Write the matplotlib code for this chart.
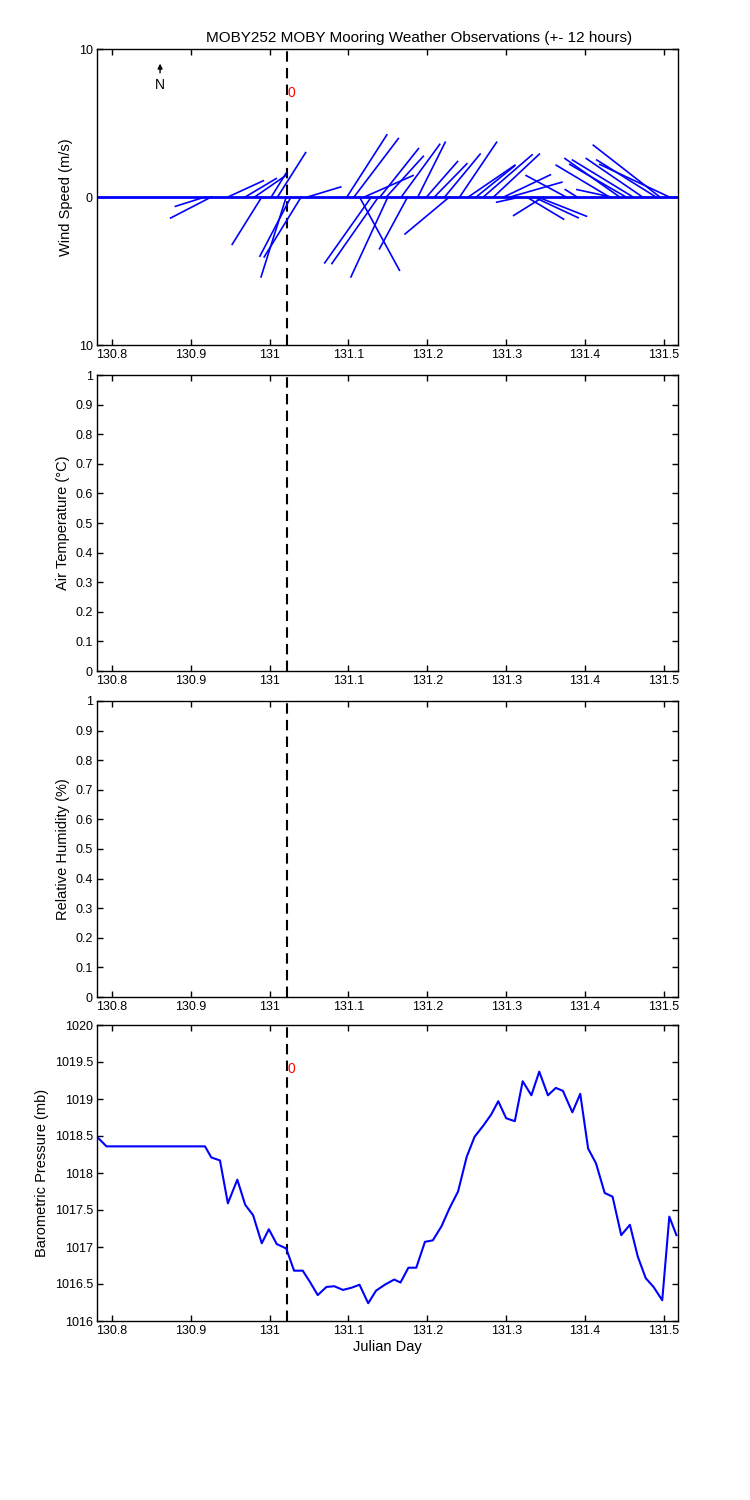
import numpy as np
import matplotlib
matplotlib.use("Agg")
import matplotlib.pyplot as plt

# Barometric pressure series
p_day = [130.781,130.793,130.918,130.926,130.937,130.947,130.959,130.969,130.979,130.990,
         130.999,131.009,131.021,131.031,131.042,131.051,131.061,131.072,131.082,131.093,
         131.104,131.114,131.125,131.135,131.146,131.158,131.166,131.176,131.186,131.197,
         131.207,131.218,131.228,131.239,131.250,131.260,131.271,131.281,131.290,131.300,
         131.311,131.321,131.332,131.342,131.353,131.363,131.372,131.384,131.394,131.404,
         131.414,131.425,131.435,131.446,131.457,131.467,131.477,131.487,131.498,131.507,131.516]
p_mb = [1018.49,1018.36,1018.36,1018.21,1018.17,1017.59,1017.91,1017.57,1017.43,1017.05,
        1017.24,1017.04,1016.98,1016.68,1016.68,1016.53,1016.35,1016.46,1016.47,1016.42,
        1016.45,1016.49,1016.24,1016.41,1016.49,1016.56,1016.52,1016.72,1016.72,1017.07,
        1017.09,1017.28,1017.52,1017.75,1018.22,1018.49,1018.64,1018.79,1018.97,1018.74,
        1018.70,1019.24,1019.05,1019.37,1019.05,1019.15,1019.11,1018.82,1019.07,1018.33,
        1018.13,1017.73,1017.68,1017.16,1017.30,1016.87,1016.58,1016.46,1016.28,1017.41,1017.16]

# Wind sticks: time (day), u, v (m/s)
w_day = [130.918,130.926,130.947,130.969,130.981,130.990,131.002,131.010,131.021,131.027,
         131.040,131.048,131.098,131.107,131.114,131.120,131.129,131.138,131.150,131.175,
         131.140,131.148,131.167,131.188,131.199,131.228,131.209,131.222,131.241,131.252,
         131.262,131.271,131.284,131.297,131.318,131.305,131.326,131.347,131.335,131.340,
         131.376,131.390,131.431,131.444,131.452,131.461,131.473,131.495,131.490,131.507,131.433]
w_u = [-2.0,-2.75,2.4,2.1,2.1,-2.0,1.0,1.9,-1.7,-2.1,
       -2.5,2.25,2.7,3.0,2.7,3.3,-3.15,-3.15,-2.5,-1.9,
       2.6,2.5,2.6,1.85,2.1,-3.0,2.2,2.4,2.5,3.15,
       2.6,3.3,3.1,3.15,-1.6,3.5,2.5,-2.0,3.0,3.3,
       -2.7,-0.8,-3.6,-3.7,-3.8,-4.1,-3.8,-4.5,-4.0,-4.7,-2.3]
w_v = [-0.63,-1.42,1.1,1.25,1.45,-3.2,1.6,3.0,-5.4,-4.0,
       -4.05,0.68,4.2,3.95,-4.95,1.45,-4.45,-4.5,-5.4,-3.5,
       3.27,2.75,3.56,3.7,2.4,-2.5,2.25,2.9,3.7,2.15,
       2.1,2.85,2.9,1.5,-0.35,1.0,-1.5,-1.25,-1.4,-1.3,
       1.45,0.5,2.15,2.6,2.2,2.5,2.6,3.5,2.5,2.2,0.5]

xlim = (130.781, 131.518)
t0 = 131.022
k = 0.01876  # days per m/s for stick display
xticks = [130.8, 130.9, 131.0, 131.1, 131.2, 131.3, 131.4, 131.5]
xticklabels = ["130.8", "130.9", "131", "131.1", "131.2", "131.3", "131.4", "131.5"]

plt.rcParams['font.family'] = ['Liberation Sans', 'DejaVu Sans']
fig = plt.figure(figsize=(7.5, 15), dpi=100)
L, W = 97/750, 581/750
tops = [49, 375, 701, 1025]
axes = [fig.add_axes([L, 1-(t+296)/1500, W, 296/1500]) for t in tops]

for ax in axes:
    ax.set_xlim(*xlim)
    ax.set_xticks(xticks)
    ax.set_xticklabels(xticklabels)
    ax.tick_params(direction='in', top=True, right=True, length=4, width=1, labelsize=9, pad=3)
    for s in ax.spines.values():
        s.set_linewidth(1)
    ax.axvline(t0, color='black', ls='--', lw=1.5, dashes=(5, 3))

# Wind
ax = axes[0]
ax.set_ylim(-10, 10)
ax.set_yticks([-10, 0, 10]); ax.set_yticklabels(["10", "0", "10"])
ax.plot([p_day[0], p_day[-1]], [0, 0], color='blue', lw=2)
for t, u, v in zip(w_day, w_u, w_v):
    ax.plot([t, t+u*k], [0, v], color='blue', lw=1.2)
ax.set_ylabel("Wind Speed (m/s)", fontsize=10.5)
ax.text(t0+0.001, 7.0, "0", color='red', fontsize=10, va='center')
ax.annotate("", xy=(130.861, 9.2), xytext=(130.861, 8.2),
            arrowprops=dict(arrowstyle='-|>', color='black', lw=1, mutation_scale=7))
ax.text(130.861, 7.6, "N", ha='center', va='center', fontsize=10)
ax.set_title("MOBY252 MOBY Mooring Weather Observations (+- 12 hours)", fontsize=11, pad=5, x=0.555)

for ax, lab in [(axes[1], "Air Temperature (\u00b0C)"), (axes[2], "Relative Humidity (%)")]:
    ax.set_ylim(0, 1)
    ax.set_yticks(np.round(np.arange(0, 1.01, 0.1), 1))
    ax.set_yticklabels(["0"] + [f"{v:.1f}" for v in np.arange(0.1, 0.95, 0.1)] + ["1"])
    ax.set_ylabel(lab, fontsize=10.5)

ax = axes[3]
ax.set_ylim(1016, 1020)
ax.set_yticks(np.arange(1016, 1020.01, 0.5))
ax.set_yticklabels(["1016", "1016.5", "1017", "1017.5", "1018", "1018.5", "1019", "1019.5", "1020"])
ax.plot(p_day, p_mb, color='blue', lw=1.5)
ax.text(t0+0.001, 1019.4, "0", color='red', fontsize=10, va='center')
ax.set_ylabel("Barometric Pressure (mb)", fontsize=10.5)
ax.set_xlabel("Julian Day", fontsize=10.5, labelpad=2)

fig.savefig("out.png", dpi=100)
